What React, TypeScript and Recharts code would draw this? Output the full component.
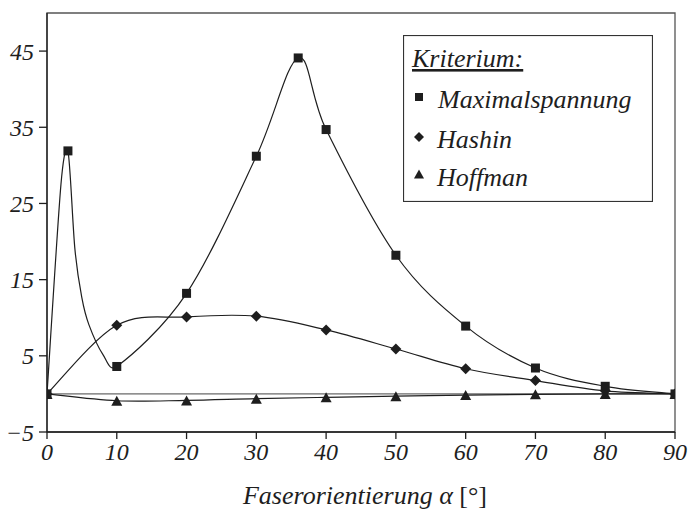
import * as React from "react"
import {
  LineChart,
  Line,
  XAxis,
  YAxis,
  Legend,
  ReferenceLine,
  ReferenceArea,
} from "recharts"

// Faserorientierung in Grad
const angles = [0, 10, 20, 30, 40, 50, 60, 70, 80, 90]

// Maximalspannung: Punkte mit Marker
const maxAngles = [0, 3, 10, 20, 30, 36, 40, 50, 60, 70, 80, 90]
const maxValues = [0, 31.9, 3.6, 13.2, 31.2, 44.1, 34.7, 18.2, 8.9, 3.4, 1.0, 0]
// Stützstellen der Kurve ohne Marker (im Bild als Knicke sichtbar)
const maxTraceAngles = [2, 4, 5, 6, 8]
const maxTraceValues = [27.5, 19.0, 12.6, 9.1, 5.2]

const hashinValues = [0, 9.0, 10.1, 10.2, 8.4, 5.9, 3.3, 1.75, 0.4, 0]
const hoffmanValues = [0, -0.9, -0.85, -0.62, -0.45, -0.3, -0.15, -0.05, 0, 0]

const yTicks = [-5, 5, 15, 25, 35, 45]
const xTicks = [0, 10, 20, 30, 40, 50, 60, 70, 80, 90]

const FONT = "serif"
const INK = "#1e1e1e"

const maxData = [
  ...maxAngles.map((x, i) => ({ x, y: maxValues[i] })),
  ...maxTraceAngles.map((x, i) => ({ x, y: maxTraceValues[i] })),
].sort((a, b) => a.x - b.x)
const hashinData = angles.map((x, i) => ({ x, y: hashinValues[i] }))
const hoffmanData = angles.map((x, i) => ({ x, y: hoffmanValues[i] }))

// geglättete Linie ähnlich Excel (Bezier, Griffe auf halbe Segmentlänge begrenzt)
function smoothCurve(context: any) {
  let pts: [number, number][] = []
  const dist = (a: [number, number], b: [number, number]) => Math.hypot(b[0] - a[0], b[1] - a[1])
  return {
    areaStart() {},
    areaEnd() {},
    lineStart() {
      pts = []
    },
    point(x: number, y: number) {
      pts.push([+x, +y])
    },
    lineEnd() {
      const n = pts.length
      if (!n) return
      context.moveTo(pts[0][0], pts[0][1])
      for (let i = 0; i < n - 1; i++) {
        const p0 = pts[i - 1] || pts[i]
        const p1 = pts[i]
        const p2 = pts[i + 1]
        const p3 = pts[i + 2] || p2
        const d12 = dist(p1, p2)
        const d02 = dist(p0, p2)
        const d13 = dist(p1, p3)
        let f1 = 1 / 6
        let f2 = 1 / 6
        if (d02 / 6 > d12 / 2 && d02 > 0) f1 = d12 / 2 / d02
        if (d13 / 6 > d12 / 2 && d13 > 0) f2 = d12 / 2 / d13
        context.bezierCurveTo(
          p1[0] + (p2[0] - p0[0]) * f1,
          p1[1] + (p2[1] - p0[1]) * f1,
          p2[0] - (p3[0] - p1[0]) * f2,
          p2[1] - (p3[1] - p1[1]) * f2,
          p2[0],
          p2[1]
        )
      }
    },
  }
}

const squareAt = (cx: number, cy: number, s: number, key?: string) => (
  <rect key={key} x={cx - s / 2} y={cy - s / 2} width={s} height={s} fill={INK} />
)
const diamondAt = (cx: number, cy: number, r: number, key?: string) => (
  <path key={key} d={`M${cx},${cy - r}L${cx + r},${cy}L${cx},${cy + r}L${cx - r},${cy}Z`} fill={INK} />
)
const triangleAt = (cx: number, cy: number, w: number, h: number, key?: string) => (
  <path
    key={key}
    d={`M${cx},${cy - h / 2}L${cx + w / 2},${cy + h / 2}L${cx - w / 2},${cy + h / 2}Z`}
    fill={INK}
  />
)

const SquareDot = (props: any) => {
  const { cx, cy, payload, index } = props
  if (!maxAngles.includes(payload.x)) return <g key={`sq-${index}`} />
  return squareAt(cx, cy, 9, `sq-${index}`)
}
const DiamondDot = (props: any) => diamondAt(props.cx, props.cy, 5.5, `di-${props.index}`)
const TriangleDot = (props: any) => triangleAt(props.cx, props.cy, 11, 10, `tr-${props.index}`)

function LegendBox() {
  return (
    <svg width={250} height={167} style={{ display: "block" }}>
      <rect x={0.5} y={0.5} width={249} height={166} fill="#fff" stroke="#333" strokeWidth={1.2} />
      <text x={9} y={32} fill={INK} fontFamily={FONT} fontStyle="italic" fontSize={26} textDecoration="underline">
        Kriterium:
      </text>
      {squareAt(16, 62, 8)}
      <text x={35} y={73} fill={INK} fontFamily={FONT} fontStyle="italic" fontSize={26}>
        Maximalspannung
      </text>
      {diamondAt(16, 102, 5)}
      <text x={34} y={113} fill={INK} fontFamily={FONT} fontStyle="italic" fontSize={26}>
        Hashin
      </text>
      {triangleAt(16, 139, 10, 9)}
      <text x={34} y={151} fill={INK} fontFamily={FONT} fontStyle="italic" fontSize={26}>
        Hoffman
      </text>
    </svg>
  )
}

const AxisTitle = (props: any) => {
  const { x, y, width } = props.viewBox
  return (
    <text x={x + width / 2 + 4} y={y + 72} textAnchor="middle" fill={INK} fontFamily={FONT} fontSize={26}>
      <tspan fontStyle="italic">Faserorientierung α</tspan>
      <tspan> [°]</tspan>
    </text>
  )
}

const tickStyle = { fill: INK, fontFamily: FONT, fontStyle: "italic", fontSize: 24 }

export default function App() {
  return (
    <div style={{ position: "absolute", left: 0, top: 0, width: 688, height: 510, background: "#fff" }}>
      <LineChart width={688} height={510} margin={{ top: 13, right: 13, left: 0, bottom: 0 }}>
        <XAxis
          dataKey="x"
          type="number"
          domain={[0, 90]}
          ticks={xTicks}
          height={78}
          tickSize={7}
          tickMargin={4}
          tick={tickStyle}
          axisLine={{ stroke: INK, strokeWidth: 1.3 }}
          tickLine={{ stroke: INK, strokeWidth: 1.3 }}
          label={<AxisTitle />}
          allowDataOverflow
        />
        <YAxis
          type="number"
          domain={[-5, 50]}
          ticks={yTicks}
          width={47}
          tickSize={8}
          tickMargin={5}
          tick={tickStyle}
          tickFormatter={(v: number) => (v < 0 ? `\u2212${Math.abs(v)}` : String(v))}
          axisLine={{ stroke: INK, strokeWidth: 1.3 }}
          tickLine={{ stroke: INK, strokeWidth: 1.3 }}
          allowDataOverflow
        />
        <ReferenceArea x1={0} x2={90} y1={-5} y2={50} fill="none" stroke="#555" strokeWidth={1.3} />
        <ReferenceLine y={0} stroke="#444" strokeWidth={1} />
        <Line
          data={hoffmanData}
          dataKey="y"
          type={smoothCurve as any}
          stroke={INK}
          strokeWidth={1.2}
          dot={TriangleDot}
          activeDot={false}
          isAnimationActive={false}
        />
        <Line
          data={hashinData}
          dataKey="y"
          type={smoothCurve as any}
          stroke={INK}
          strokeWidth={1.2}
          dot={DiamondDot}
          activeDot={false}
          isAnimationActive={false}
        />
        <Line
          data={maxData}
          dataKey="y"
          type={smoothCurve as any}
          stroke={INK}
          strokeWidth={1.2}
          dot={SquareDot}
          activeDot={false}
          isAnimationActive={false}
        />
        <Legend
          layout="vertical"
          align="center"
          verticalAlign="middle"
          wrapperStyle={{ left: 403, top: 35, width: 250, height: 167 }}
          content={<LegendBox />}
        />
      </LineChart>
    </div>
  )
}
